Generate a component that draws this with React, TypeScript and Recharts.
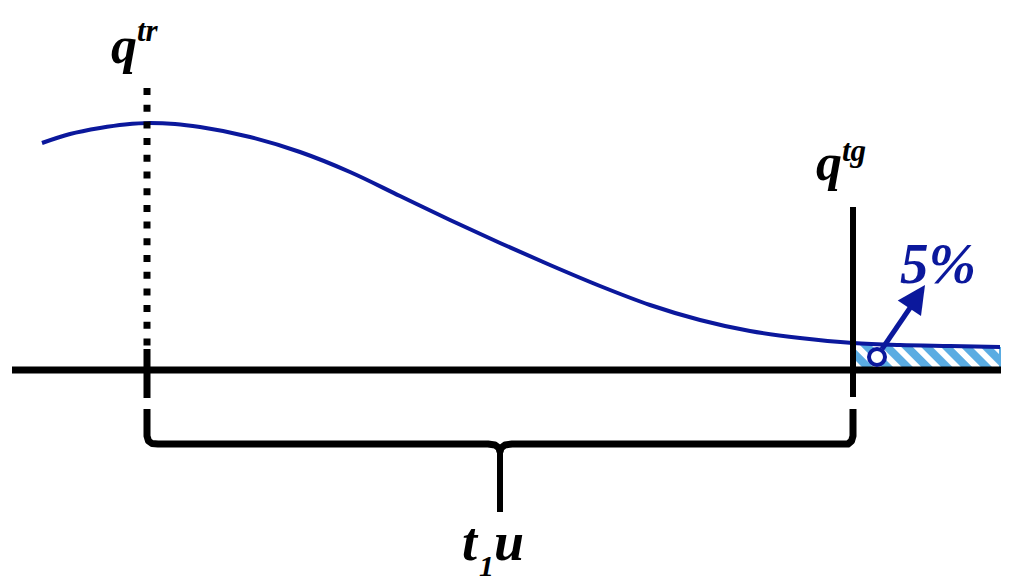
import React from 'react';
import {
    ComposedChart,
    Line,
    Area,
    XAxis,
    YAxis,
    ReferenceLine,
    ReferenceDot,
} from 'recharts';

// curve (y grows downwards, axis is reversed)
const curveX = [42, 70, 100, 125, 150, 175, 200, 250, 300, 350, 400, 450, 500, 550, 600, 650, 700, 750, 800, 853, 900, 950, 1000];
const curveY = [143, 134, 128, 124.5, 123, 124, 127, 137, 152, 172, 196, 220, 243, 265, 286, 305, 320, 331, 338, 343, 345, 346, 347];

const baseY = 370;
const trX = 147;
const tgX = 853;

// brace outline
const braceLeftX = [147, 147, 148.5, 152, 158, 488, 495, 499, 500];
const braceLeftY = [409, 436, 441, 443.5, 444, 444, 445, 448, 452];
const braceRightX = [500, 501, 505, 512, 848, 851.5, 853, 853];
const braceRightY = [452, 448, 445, 444, 444, 441, 436, 409];
const stemX = [500, 500];
const stemY = [448, 512];

const arrowFrom = { x: 882, y: 349 };
const arrowTip = { x: 925, y: 285 };
const markerPt = { x: 877, y: 357 };

const BLUE = '#0b189c';
const HATCH = '#5aace2';
const FONT = 'Liberation Serif';

const curveData = curveX.map((x, i) => ({ x, y: curveY[i] }));
const hatchData = curveX
    .map((x, i) => ({ x, range: [curveY[i], baseY - 3] }))
    .filter((d) => d.x >= tgX);
const braceLeft = braceLeftX.map((x, i) => ({ x, y: braceLeftY[i] }));
const braceRight = braceRightX.map((x, i) => ({ x, y: braceRightY[i] }));
const stem = stemX.map((x, i) => ({ x, y: stemY[i] }));

const ArrowHead = (props: any) => {
    const { cx, cy } = props;
    const dx = arrowTip.x - arrowFrom.x;
    const dy = arrowTip.y - arrowFrom.y;
    const len = Math.sqrt(dx * dx + dy * dy);
    const ux = dx / len;
    const uy = dy / len;
    const bx = cx - ux * 28;
    const by = cy - uy * 28;
    const px = -uy * 14;
    const py = ux * 14;
    const pts = `${cx},${cy} ${bx + px},${by + py} ${bx - px},${by - py}`;
    return <polygon points={pts} fill={BLUE} />;
};

const textShape = (content: React.ReactNode, color = '#000', size = 52) => (props: any) => (
    <text
        x={props.cx}
        y={props.cy}
        fill={color}
        fontFamily={FONT}
        fontWeight="bold"
        fontStyle="italic"
        fontSize={size}
    >
        {content}
    </text>
);

export default function App() {
    return (
        <div style={{ position: 'absolute', left: 0, top: 0, width: 1024, height: 587, background: '#fff' }}>
            <ComposedChart width={1024} height={587} margin={{ top: 0, right: 0, bottom: 0, left: 0 }}>
                <defs>
                    <pattern id="hatch" width="14" height="14" patternUnits="userSpaceOnUse" patternTransform="rotate(-45)">
                        <rect width="14" height="14" fill="#fff" />
                        <rect width="8" height="14" fill={HATCH} />
                    </pattern>
                </defs>
                <XAxis type="number" dataKey="x" domain={[0, 1024]} allowDataOverflow hide />
                <YAxis type="number" domain={[0, 587]} reversed allowDataOverflow hide />

                <Area
                    data={hatchData}
                    dataKey="range"
                    type="monotone"
                    fill="url(#hatch)"
                    fillOpacity={1}
                    stroke="none"
                    isAnimationActive={false}
                />
                <ReferenceLine
                    segment={[{ x: 1000, y: 347 }, { x: 1000, y: baseY }]}
                    stroke={HATCH}
                    strokeWidth={2}
                    ifOverflow="visible"
                />
                <Line
                    data={curveData}
                    dataKey="y"
                    type="monotone"
                    stroke={BLUE}
                    strokeWidth={4}
                    dot={false}
                    activeDot={false}
                    isAnimationActive={false}
                />

                {/* axis and markers */}
                <ReferenceLine segment={[{ x: 12, y: baseY }, { x: 1001, y: baseY }]} stroke="#000" strokeWidth={7} ifOverflow="visible" />
                <ReferenceLine segment={[{ x: trX, y: 88 }, { x: trX, y: 346 }]} stroke="#000" strokeWidth={7} strokeDasharray="7 9.7" ifOverflow="visible" />
                <ReferenceLine segment={[{ x: trX, y: 349 }, { x: trX, y: 398 }]} stroke="#000" strokeWidth={7} ifOverflow="visible" />
                <ReferenceLine segment={[{ x: tgX, y: 207 }, { x: tgX, y: 397 }]} stroke="#000" strokeWidth={6} ifOverflow="visible" />

                {/* brace */}
                <Line data={braceLeft} dataKey="y" type="linear" stroke="#000" strokeWidth={7} strokeLinejoin="round" dot={false} activeDot={false} isAnimationActive={false} />
                <Line data={braceRight} dataKey="y" type="linear" stroke="#000" strokeWidth={7} strokeLinejoin="round" dot={false} activeDot={false} isAnimationActive={false} />
                <Line data={stem} dataKey="y" type="linear" stroke="#000" strokeWidth={6} dot={false} activeDot={false} isAnimationActive={false} />

                {/* 5% arrow */}
                <ReferenceLine segment={[arrowFrom, { x: 912, y: 305 }]} stroke={BLUE} strokeWidth={5} ifOverflow="visible" />
                <ReferenceDot x={arrowTip.x} y={arrowTip.y} r={0} shape={ArrowHead} ifOverflow="visible" />
                <ReferenceDot x={markerPt.x} y={markerPt.y} r={8} fill="#fff" stroke={BLUE} strokeWidth={4} ifOverflow="visible" />

                {/* labels */}
                <ReferenceDot
                    x={111}
                    y={63}
                    r={0}
                    ifOverflow="visible"
                    shape={textShape(<><tspan>q</tspan><tspan fontSize={31} dy={-22}>tr</tspan></>)}
                />
                <ReferenceDot
                    x={816}
                    y={180}
                    r={0}
                    ifOverflow="visible"
                    shape={textShape(<><tspan>q</tspan><tspan fontSize={31} dy={-19}>tg</tspan></>)}
                />
                <ReferenceDot
                    x={462}
                    y={560}
                    r={0}
                    ifOverflow="visible"
                    shape={textShape(<><tspan>t</tspan><tspan fontSize={30} dy={16} dx={2}>1</tspan><tspan dy={-16}>u</tspan></>, '#000', 54)}
                />
                <ReferenceDot
                    x={900}
                    y={283}
                    r={0}
                    ifOverflow="visible"
                    shape={textShape('5%', BLUE, 57)}
                />
            </ComposedChart>
        </div>
    );
}
